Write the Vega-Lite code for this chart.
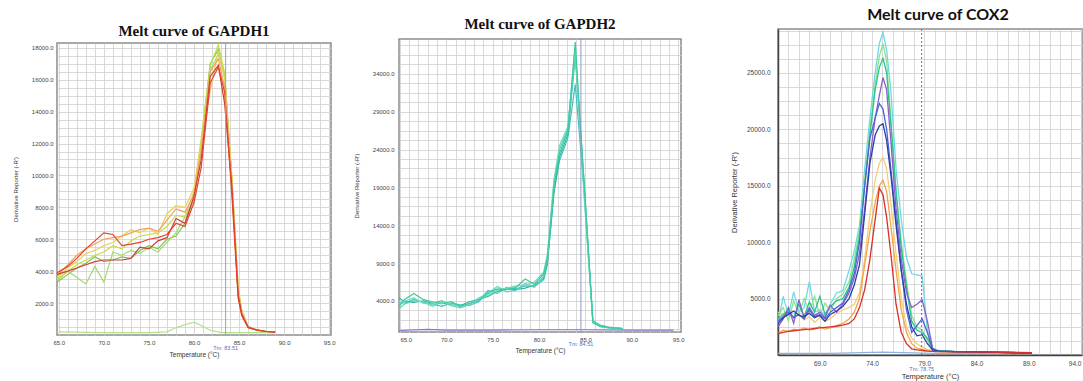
{
"$schema": "https://vega.github.io/schema/vega-lite/v6.json",
"padding": {"left": 11, "top": 0, "right": 0, "bottom": 0},
"background": "white",
"spacing": 16,
"resolve": {"scale": {"color": "independent"}},
"config": {
  "view": {"stroke": "#8c8c8c", "strokeWidth": 1.5},
  "axis": {"labelFont": "Liberation Sans", "titleFont": "Liberation Sans", "labelColor": "#444", "titleColor": "#333", "gridColor": "#cfcfcf", "gridWidth": 0.8, "ticks": false, "domain": false, "labelOverlap": false, "labelBound": false, "titleFontWeight": "normal"},
  "title": {"anchor": "middle", "color": "#111"}
},
"datasets": {
  "m1": [{"t": 83.51, "label": "Tm: 83.51"}],
  "m2": [{"t": 84.51, "label": "Tm: 84.51"}],
  "m3": [{"t": 78.75, "label": "Tm: 78.75"}],
  "d1": [
{"s":"N","t":64.8,"v":200},{"s":"N","t":70,"v":150},{"s":"N","t":75,"v":150},{"s":"N","t":77,"v":200},{"s":"N","t":78,"v":450},{"s":"N","t":79,"v":650},{"s":"N","t":80,"v":800},{"s":"N","t":80.8,"v":600},{"s":"N","t":81.8,"v":300},{"s":"N","t":83,"v":150},{"s":"N","t":85,"v":150},{"s":"N","t":87,"v":150},{"s":"N","t":89,"v":150},
{"s":"G","t":64.8,"v":3300},{"s":"G","t":66,"v":3800},{"s":"G","t":67,"v":4200},{"s":"G","t":68,"v":4500},{"s":"G","t":69,"v":4900},{"s":"G","t":70,"v":4600},{"s":"G","t":71,"v":4700},{"s":"G","t":72,"v":4900},{"s":"G","t":73,"v":4800},{"s":"G","t":74,"v":5300},{"s":"G","t":75,"v":5600},{"s":"G","t":76,"v":5400},{"s":"G","t":77,"v":6000},{"s":"G","t":78,"v":6200},{"s":"G","t":79,"v":7000},{"s":"G","t":80,"v":8600},{"s":"G","t":80.8,"v":12000},{"s":"G","t":81.8,"v":17000},{"s":"G","t":82.7,"v":17900},{"s":"G","t":83.4,"v":16300},{"s":"G","t":84.2,"v":9700},{"s":"G","t":84.9,"v":2800},{"s":"G","t":85.3,"v":1500},{"s":"G","t":86,"v":500},{"s":"G","t":87,"v":320},{"s":"G","t":88,"v":220},{"s":"G","t":89,"v":180},
{"s":"F","t":64.8,"v":3400},{"s":"F","t":66,"v":4000},{"s":"F","t":67,"v":3600},{"s":"F","t":68,"v":3200},{"s":"F","t":69,"v":4300},{"s":"F","t":70,"v":3300},{"s":"F","t":71,"v":5200},{"s":"F","t":72,"v":5000},{"s":"F","t":73,"v":5300},{"s":"F","t":74,"v":5100},{"s":"F","t":75,"v":5500},{"s":"F","t":76,"v":5200},{"s":"F","t":77,"v":5800},{"s":"F","t":78,"v":6400},{"s":"F","t":79,"v":7400},{"s":"F","t":80,"v":8500},{"s":"F","t":80.8,"v":11800},{"s":"F","t":81.8,"v":16600},{"s":"F","t":82.7,"v":17600},{"s":"F","t":83.4,"v":16200},{"s":"F","t":84.2,"v":9600},{"s":"F","t":84.9,"v":2600},{"s":"F","t":85.3,"v":1400},{"s":"F","t":86,"v":500},{"s":"F","t":87,"v":310},{"s":"F","t":88,"v":220},{"s":"F","t":89,"v":180},
{"s":"E","t":64.8,"v":3500},{"s":"E","t":66,"v":4000},{"s":"E","t":67,"v":4400},{"s":"E","t":68,"v":4700},{"s":"E","t":69,"v":5000},{"s":"E","t":70,"v":5200},{"s":"E","t":71,"v":5600},{"s":"E","t":72,"v":5400},{"s":"E","t":73,"v":5900},{"s":"E","t":74,"v":6200},{"s":"E","t":75,"v":6300},{"s":"E","t":76,"v":6400},{"s":"E","t":77,"v":6800},{"s":"E","t":78,"v":7500},{"s":"E","t":79,"v":7400},{"s":"E","t":80,"v":9000},{"s":"E","t":80.8,"v":12300},{"s":"E","t":81.8,"v":16900},{"s":"E","t":82.7,"v":18200},{"s":"E","t":83.4,"v":16400},{"s":"E","t":84.2,"v":10000},{"s":"E","t":84.9,"v":3000},{"s":"E","t":85.3,"v":1500},{"s":"E","t":86,"v":550},{"s":"E","t":87,"v":330},{"s":"E","t":88,"v":230},{"s":"E","t":89,"v":190},
{"s":"D","t":64.8,"v":3600},{"s":"D","t":66,"v":4200},{"s":"D","t":67,"v":4600},{"s":"D","t":68,"v":5100},{"s":"D","t":69,"v":5300},{"s":"D","t":70,"v":5600},{"s":"D","t":71,"v":5800},{"s":"D","t":72,"v":6200},{"s":"D","t":73,"v":6600},{"s":"D","t":74,"v":6400},{"s":"D","t":75,"v":6700},{"s":"D","t":76,"v":6300},{"s":"D","t":77,"v":7600},{"s":"D","t":78,"v":8100},{"s":"D","t":79,"v":8000},{"s":"D","t":80,"v":9200},{"s":"D","t":80.8,"v":12000},{"s":"D","t":81.8,"v":15300},{"s":"D","t":82.7,"v":17800},{"s":"D","t":83.4,"v":16000},{"s":"D","t":84.2,"v":9800},{"s":"D","t":84.9,"v":2900},{"s":"D","t":85.3,"v":1500},{"s":"D","t":86,"v":500},{"s":"D","t":87,"v":320},{"s":"D","t":88,"v":230},{"s":"D","t":89,"v":180},
{"s":"C","t":64.8,"v":3700},{"s":"C","t":66,"v":4400},{"s":"C","t":67,"v":5000},{"s":"C","t":68,"v":5400},{"s":"C","t":69,"v":5700},{"s":"C","t":70,"v":6000},{"s":"C","t":71,"v":6100},{"s":"C","t":72,"v":6200},{"s":"C","t":73,"v":6400},{"s":"C","t":74,"v":6600},{"s":"C","t":75,"v":6700},{"s":"C","t":76,"v":6500},{"s":"C","t":77,"v":7200},{"s":"C","t":78,"v":7900},{"s":"C","t":79,"v":7700},{"s":"C","t":80,"v":8800},{"s":"C","t":80.8,"v":11500},{"s":"C","t":81.8,"v":16500},{"s":"C","t":82.7,"v":17300},{"s":"C","t":83.4,"v":15500},{"s":"C","t":84.2,"v":9500},{"s":"C","t":84.9,"v":2700},{"s":"C","t":85.3,"v":1400},{"s":"C","t":86,"v":500},{"s":"C","t":87,"v":300},{"s":"C","t":88,"v":220},{"s":"C","t":89,"v":180},
{"s":"B","t":64.8,"v":3800},{"s":"B","t":66,"v":4000},{"s":"B","t":67,"v":4200},{"s":"B","t":68,"v":4400},{"s":"B","t":69,"v":4600},{"s":"B","t":70,"v":4700},{"s":"B","t":71,"v":4700},{"s":"B","t":72,"v":4700},{"s":"B","t":73,"v":4800},{"s":"B","t":74,"v":5500},{"s":"B","t":75,"v":5400},{"s":"B","t":76,"v":5900},{"s":"B","t":77,"v":6100},{"s":"B","t":78,"v":7300},{"s":"B","t":79,"v":7000},{"s":"B","t":80,"v":8700},{"s":"B","t":80.8,"v":11000},{"s":"B","t":81.8,"v":16200},{"s":"B","t":82.7,"v":16900},{"s":"B","t":83.4,"v":14500},{"s":"B","t":84.2,"v":9300},{"s":"B","t":84.9,"v":2500},{"s":"B","t":85.3,"v":1300},{"s":"B","t":86,"v":500},{"s":"B","t":87,"v":300},{"s":"B","t":88,"v":220},{"s":"B","t":89,"v":180},
{"s":"A","t":64.8,"v":3900},{"s":"A","t":66,"v":4300},{"s":"A","t":67,"v":4800},{"s":"A","t":68,"v":5400},{"s":"A","t":69,"v":5900},{"s":"A","t":70,"v":6400},{"s":"A","t":71,"v":6300},{"s":"A","t":72,"v":5600},{"s":"A","t":73,"v":5700},{"s":"A","t":74,"v":5800},{"s":"A","t":75,"v":6000},{"s":"A","t":76,"v":6100},{"s":"A","t":77,"v":6300},{"s":"A","t":78,"v":7000},{"s":"A","t":79,"v":6800},{"s":"A","t":80,"v":8300},{"s":"A","t":80.8,"v":10500},{"s":"A","t":81.8,"v":15800},{"s":"A","t":82.7,"v":16800},{"s":"A","t":83.4,"v":15200},{"s":"A","t":84.2,"v":8800},{"s":"A","t":84.9,"v":2300},{"s":"A","t":85.3,"v":1200},{"s":"A","t":86,"v":450},{"s":"A","t":87,"v":300},{"s":"A","t":88,"v":220},{"s":"A","t":89,"v":180}
  ],
  "d2": [
{"s":"N","t":64.9,"v":100},{"s":"N","t":68,"v":250},{"s":"N","t":70,"v":150},{"s":"N","t":75,"v":150},{"s":"N","t":80,"v":200},{"s":"N","t":85,"v":200},{"s":"N","t":90,"v":150},{"s":"N","t":94.5,"v":150},
{"s":"P4","t":64.9,"v":3800},{"s":"P4","t":65.5,"v":3700},{"s":"P4","t":66.5,"v":4200},{"s":"P4","t":67.5,"v":3800},{"s":"P4","t":68.5,"v":3600},{"s":"P4","t":69.5,"v":3300},{"s":"P4","t":70.5,"v":3700},{"s":"P4","t":71.5,"v":3500},{"s":"P4","t":72.5,"v":3400},{"s":"P4","t":73.5,"v":3900},{"s":"P4","t":74.5,"v":5400},{"s":"P4","t":75.5,"v":5000},{"s":"P4","t":76.5,"v":5800},{"s":"P4","t":77.5,"v":5600},{"s":"P4","t":78.5,"v":6000},{"s":"P4","t":79.5,"v":5900},{"s":"P4","t":80.5,"v":6800},{"s":"P4","t":80.9,"v":8800},{"s":"P4","t":81.6,"v":18500},{"s":"P4","t":82.2,"v":22500},{"s":"P4","t":83.1,"v":25500},{"s":"P4","t":83.9,"v":32600},{"s":"P4","t":84.9,"v":18000},{"s":"P4","t":85.8,"v":1400},{"s":"P4","t":86.6,"v":800},{"s":"P4","t":87.5,"v":550},{"s":"P4","t":89,"v":380},
{"s":"P2","t":64.9,"v":4400},{"s":"P2","t":65.5,"v":3900},{"s":"P2","t":66.5,"v":3800},{"s":"P2","t":67.5,"v":4000},{"s":"P2","t":68.5,"v":3700},{"s":"P2","t":69.5,"v":4000},{"s":"P2","t":70.5,"v":3500},{"s":"P2","t":71.5,"v":3400},{"s":"P2","t":72.5,"v":3900},{"s":"P2","t":73.5,"v":4200},{"s":"P2","t":74.5,"v":4600},{"s":"P2","t":75.5,"v":5300},{"s":"P2","t":76.5,"v":5600},{"s":"P2","t":77.5,"v":5500},{"s":"P2","t":78.5,"v":5700},{"s":"P2","t":79.5,"v":6100},{"s":"P2","t":80.5,"v":7000},{"s":"P2","t":80.9,"v":9200},{"s":"P2","t":81.6,"v":18200},{"s":"P2","t":82.2,"v":23000},{"s":"P2","t":83.1,"v":26000},{"s":"P2","t":83.9,"v":36300},{"s":"P2","t":84.9,"v":19000},{"s":"P2","t":85.8,"v":1100},{"s":"P2","t":86.6,"v":600},{"s":"P2","t":87.5,"v":450},{"s":"P2","t":89,"v":330},
{"s":"P3","t":64.9,"v":3000},{"s":"P3","t":65.5,"v":3600},{"s":"P3","t":66.5,"v":4000},{"s":"P3","t":67.5,"v":3900},{"s":"P3","t":68.5,"v":3300},{"s":"P3","t":69.5,"v":3800},{"s":"P3","t":70.5,"v":3400},{"s":"P3","t":71.5,"v":3100},{"s":"P3","t":72.5,"v":3500},{"s":"P3","t":73.5,"v":4400},{"s":"P3","t":74.5,"v":5000},{"s":"P3","t":75.5,"v":5900},{"s":"P3","t":76.5,"v":5200},{"s":"P3","t":77.5,"v":5400},{"s":"P3","t":78.5,"v":6300},{"s":"P3","t":79.5,"v":5800},{"s":"P3","t":80.5,"v":7300},{"s":"P3","t":80.9,"v":9600},{"s":"P3","t":81.6,"v":19500},{"s":"P3","t":82.2,"v":24000},{"s":"P3","t":83.1,"v":26800},{"s":"P3","t":83.9,"v":37500},{"s":"P3","t":84.9,"v":17000},{"s":"P3","t":85.8,"v":1200},{"s":"P3","t":86.6,"v":650},{"s":"P3","t":87.5,"v":480},{"s":"P3","t":89,"v":340},
{"s":"P5","t":64.9,"v":3600},{"s":"P5","t":65.5,"v":4000},{"s":"P5","t":66.5,"v":4400},{"s":"P5","t":67.5,"v":3700},{"s":"P5","t":68.5,"v":3500},{"s":"P5","t":69.5,"v":3900},{"s":"P5","t":70.5,"v":3600},{"s":"P5","t":71.5,"v":3300},{"s":"P5","t":72.5,"v":3600},{"s":"P5","t":73.5,"v":4100},{"s":"P5","t":74.5,"v":4800},{"s":"P5","t":75.5,"v":5400},{"s":"P5","t":76.5,"v":5700},{"s":"P5","t":77.5,"v":6000},{"s":"P5","t":78.5,"v":6100},{"s":"P5","t":79.5,"v":6500},{"s":"P5","t":80.5,"v":7800},{"s":"P5","t":80.9,"v":10200},{"s":"P5","t":81.6,"v":20000},{"s":"P5","t":82.2,"v":24500},{"s":"P5","t":83.1,"v":27000},{"s":"P5","t":83.9,"v":37000},{"s":"P5","t":84.9,"v":17500},{"s":"P5","t":85.8,"v":1250},{"s":"P5","t":86.6,"v":700},{"s":"P5","t":87.5,"v":500},{"s":"P5","t":89,"v":360},
{"s":"P1","t":64.9,"v":3300},{"s":"P1","t":65.5,"v":4200},{"s":"P1","t":66.5,"v":5000},{"s":"P1","t":67.5,"v":4200},{"s":"P1","t":68.5,"v":3900},{"s":"P1","t":69.5,"v":3600},{"s":"P1","t":70.5,"v":3900},{"s":"P1","t":71.5,"v":3300},{"s":"P1","t":72.5,"v":3700},{"s":"P1","t":73.5,"v":4000},{"s":"P1","t":74.5,"v":5100},{"s":"P1","t":75.5,"v":5600},{"s":"P1","t":76.5,"v":5500},{"s":"P1","t":77.5,"v":5800},{"s":"P1","t":78.5,"v":6900},{"s":"P1","t":79.5,"v":6200},{"s":"P1","t":80.5,"v":7600},{"s":"P1","t":80.9,"v":9800},{"s":"P1","t":81.6,"v":19000},{"s":"P1","t":82.2,"v":23500},{"s":"P1","t":83.1,"v":26500},{"s":"P1","t":83.9,"v":38200},{"s":"P1","t":84.9,"v":18500},{"s":"P1","t":85.8,"v":1300},{"s":"P1","t":86.6,"v":700},{"s":"P1","t":87.5,"v":500},{"s":"P1","t":89,"v":350}
  ],
  "d3": [
{"s":"N","t":65.0,"v":150},{"s":"N","t":70,"v":150},{"s":"N","t":75,"v":250},{"s":"N","t":80,"v":150},{"s":"N","t":85,"v":150},{"s":"N","t":89.3,"v":150},
{"s":"C7","t":65.0,"v":3800},{"s":"C7","t":65.5,"v":3500},{"s":"C7","t":66.0,"v":3900},{"s":"C7","t":66.5,"v":3300},{"s":"C7","t":67.0,"v":3600},{"s":"C7","t":67.5,"v":3100},{"s":"C7","t":68.0,"v":3400},{"s":"C7","t":68.5,"v":2900},{"s":"C7","t":69.0,"v":3300},{"s":"C7","t":69.5,"v":3000},{"s":"C7","t":70.0,"v":3200},{"s":"C7","t":70.6,"v":3700},{"s":"C7","t":71.2,"v":4000},{"s":"C7","t":71.8,"v":4200},{"s":"C7","t":72.3,"v":4500},{"s":"C7","t":72.8,"v":5500},{"s":"C7","t":73.3,"v":8500},{"s":"C7","t":73.8,"v":12500},{"s":"C7","t":74.3,"v":15500},{"s":"C7","t":74.7,"v":17000},{"s":"C7","t":75.05,"v":17500},{"s":"C7","t":75.4,"v":16500},{"s":"C7","t":75.8,"v":13500},{"s":"C7","t":76.3,"v":9000},{"s":"C7","t":76.8,"v":5000},{"s":"C7","t":77.3,"v":2500},{"s":"C7","t":77.8,"v":1500},{"s":"C7","t":78.3,"v":1000},{"s":"C7","t":78.8,"v":700},{"s":"C7","t":79.3,"v":500},{"s":"C7","t":79.8,"v":400},{"s":"C7","t":80.3,"v":350},{"s":"C7","t":82,"v":300},{"s":"C7","t":85,"v":250},{"s":"C7","t":88,"v":200},{"s":"C7","t":89.3,"v":200},
{"s":"C8","t":65.0,"v":1900},{"s":"C8","t":65.5,"v":2200},{"s":"C8","t":66.0,"v":2100},{"s":"C8","t":66.5,"v":2300},{"s":"C8","t":67.0,"v":2200},{"s":"C8","t":67.5,"v":2400},{"s":"C8","t":68.0,"v":2200},{"s":"C8","t":68.5,"v":2300},{"s":"C8","t":69.0,"v":2500},{"s":"C8","t":69.5,"v":2300},{"s":"C8","t":70.0,"v":2400},{"s":"C8","t":70.6,"v":2600},{"s":"C8","t":71.2,"v":2800},{"s":"C8","t":71.8,"v":3200},{"s":"C8","t":72.3,"v":3800},{"s":"C8","t":72.8,"v":5000},{"s":"C8","t":73.3,"v":8000},{"s":"C8","t":73.8,"v":11000},{"s":"C8","t":74.3,"v":13500},{"s":"C8","t":74.7,"v":15000},{"s":"C8","t":75.05,"v":15500},{"s":"C8","t":75.4,"v":14500},{"s":"C8","t":75.8,"v":11500},{"s":"C8","t":76.3,"v":7500},{"s":"C8","t":76.8,"v":4000},{"s":"C8","t":77.3,"v":2000},{"s":"C8","t":77.8,"v":1000},{"s":"C8","t":78.3,"v":600},{"s":"C8","t":78.8,"v":500},{"s":"C8","t":79.3,"v":400},{"s":"C8","t":79.8,"v":350},{"s":"C8","t":80.3,"v":300},{"s":"C8","t":82,"v":250},{"s":"C8","t":85,"v":250},{"s":"C8","t":88,"v":200},{"s":"C8","t":89.3,"v":200},
{"s":"C1","t":65.0,"v":2800},{"s":"C1","t":65.5,"v":5200},{"s":"C1","t":66.0,"v":3500},{"s":"C1","t":66.5,"v":5600},{"s":"C1","t":67.0,"v":3800},{"s":"C1","t":67.5,"v":4200},{"s":"C1","t":68.0,"v":6500},{"s":"C1","t":68.5,"v":3800},{"s":"C1","t":69.0,"v":4000},{"s":"C1","t":69.5,"v":3500},{"s":"C1","t":70.0,"v":4500},{"s":"C1","t":70.6,"v":5500},{"s":"C1","t":71.2,"v":5700},{"s":"C1","t":71.8,"v":7500},{"s":"C1","t":72.3,"v":9200},{"s":"C1","t":72.8,"v":11500},{"s":"C1","t":73.3,"v":16500},{"s":"C1","t":73.8,"v":21000},{"s":"C1","t":74.3,"v":25000},{"s":"C1","t":74.7,"v":27600},{"s":"C1","t":75.05,"v":28600},{"s":"C1","t":75.4,"v":27000},{"s":"C1","t":75.8,"v":23500},{"s":"C1","t":76.3,"v":16500},{"s":"C1","t":76.8,"v":12000},{"s":"C1","t":77.3,"v":8600},{"s":"C1","t":77.8,"v":7200},{"s":"C1","t":78.3,"v":7100},{"s":"C1","t":78.8,"v":7000},{"s":"C1","t":79.3,"v":2200},{"s":"C1","t":79.8,"v":400},{"s":"C1","t":80.3,"v":350},{"s":"C1","t":82,"v":300},{"s":"C1","t":85,"v":250},{"s":"C1","t":88,"v":200},{"s":"C1","t":89.3,"v":200},
{"s":"C2","t":65.0,"v":3500},{"s":"C2","t":65.5,"v":4200},{"s":"C2","t":66.0,"v":3000},{"s":"C2","t":66.5,"v":4800},{"s":"C2","t":67.0,"v":3600},{"s":"C2","t":67.5,"v":5000},{"s":"C2","t":68.0,"v":3800},{"s":"C2","t":68.5,"v":5200},{"s":"C2","t":69.0,"v":3500},{"s":"C2","t":69.5,"v":4600},{"s":"C2","t":70.0,"v":3900},{"s":"C2","t":70.6,"v":5000},{"s":"C2","t":71.2,"v":5400},{"s":"C2","t":71.8,"v":6500},{"s":"C2","t":72.3,"v":8500},{"s":"C2","t":72.8,"v":11000},{"s":"C2","t":73.3,"v":15500},{"s":"C2","t":73.8,"v":20000},{"s":"C2","t":74.3,"v":24000},{"s":"C2","t":74.7,"v":26500},{"s":"C2","t":75.05,"v":27600},{"s":"C2","t":75.4,"v":26000},{"s":"C2","t":75.8,"v":21000},{"s":"C2","t":76.3,"v":14500},{"s":"C2","t":76.8,"v":10000},{"s":"C2","t":77.3,"v":6500},{"s":"C2","t":77.8,"v":3500},{"s":"C2","t":78.3,"v":2500},{"s":"C2","t":78.8,"v":2200},{"s":"C2","t":79.3,"v":1300},{"s":"C2","t":79.8,"v":500},{"s":"C2","t":80.3,"v":350},{"s":"C2","t":82,"v":300},{"s":"C2","t":85,"v":250},{"s":"C2","t":88,"v":200},{"s":"C2","t":89.3,"v":200},
{"s":"C3","t":65.0,"v":3200},{"s":"C3","t":65.5,"v":3600},{"s":"C3","t":66.0,"v":4000},{"s":"C3","t":66.5,"v":3300},{"s":"C3","t":67.0,"v":4500},{"s":"C3","t":67.5,"v":3400},{"s":"C3","t":68.0,"v":4700},{"s":"C3","t":68.5,"v":3800},{"s":"C3","t":69.0,"v":5200},{"s":"C3","t":69.5,"v":3600},{"s":"C3","t":70.0,"v":4300},{"s":"C3","t":70.6,"v":4800},{"s":"C3","t":71.2,"v":5000},{"s":"C3","t":71.8,"v":6000},{"s":"C3","t":72.3,"v":7800},{"s":"C3","t":72.8,"v":10500},{"s":"C3","t":73.3,"v":15000},{"s":"C3","t":73.8,"v":19500},{"s":"C3","t":74.3,"v":23500},{"s":"C3","t":74.7,"v":25500},{"s":"C3","t":75.05,"v":26300},{"s":"C3","t":75.4,"v":25000},{"s":"C3","t":75.8,"v":20500},{"s":"C3","t":76.3,"v":14500},{"s":"C3","t":76.8,"v":9500},{"s":"C3","t":77.3,"v":6000},{"s":"C3","t":77.8,"v":3000},{"s":"C3","t":78.3,"v":2200},{"s":"C3","t":78.8,"v":2000},{"s":"C3","t":79.3,"v":1500},{"s":"C3","t":79.8,"v":600},{"s":"C3","t":80.3,"v":400},{"s":"C3","t":82,"v":300},{"s":"C3","t":85,"v":250},{"s":"C3","t":88,"v":200},{"s":"C3","t":89.3,"v":200},
{"s":"C4","t":65.0,"v":2500},{"s":"C4","t":65.5,"v":3200},{"s":"C4","t":66.0,"v":4200},{"s":"C4","t":66.5,"v":2800},{"s":"C4","t":67.0,"v":4900},{"s":"C4","t":67.5,"v":3300},{"s":"C4","t":68.0,"v":4200},{"s":"C4","t":68.5,"v":3500},{"s":"C4","t":69.0,"v":3800},{"s":"C4","t":69.5,"v":3300},{"s":"C4","t":70.0,"v":4400},{"s":"C4","t":70.6,"v":3800},{"s":"C4","t":71.2,"v":4500},{"s":"C4","t":71.8,"v":5500},{"s":"C4","t":72.3,"v":6800},{"s":"C4","t":72.8,"v":9000},{"s":"C4","t":73.3,"v":13000},{"s":"C4","t":73.8,"v":17500},{"s":"C4","t":74.3,"v":21000},{"s":"C4","t":74.7,"v":23000},{"s":"C4","t":75.05,"v":24600},{"s":"C4","t":75.4,"v":23500},{"s":"C4","t":75.8,"v":19000},{"s":"C4","t":76.3,"v":13000},{"s":"C4","t":76.8,"v":8500},{"s":"C4","t":77.3,"v":5500},{"s":"C4","t":77.8,"v":4200},{"s":"C4","t":78.3,"v":4500},{"s":"C4","t":78.8,"v":4900},{"s":"C4","t":79.3,"v":3000},{"s":"C4","t":79.8,"v":600},{"s":"C4","t":80.3,"v":350},{"s":"C4","t":82,"v":300},{"s":"C4","t":85,"v":250},{"s":"C4","t":88,"v":200},{"s":"C4","t":89.3,"v":200},
{"s":"C5","t":65.0,"v":3000},{"s":"C5","t":65.5,"v":3400},{"s":"C5","t":66.0,"v":3800},{"s":"C5","t":66.5,"v":3300},{"s":"C5","t":67.0,"v":3600},{"s":"C5","t":67.5,"v":3200},{"s":"C5","t":68.0,"v":4000},{"s":"C5","t":68.5,"v":3400},{"s":"C5","t":69.0,"v":3600},{"s":"C5","t":69.5,"v":3200},{"s":"C5","t":70.0,"v":3800},{"s":"C5","t":70.6,"v":4200},{"s":"C5","t":71.2,"v":4600},{"s":"C5","t":71.8,"v":5800},{"s":"C5","t":72.3,"v":7200},{"s":"C5","t":72.8,"v":10000},{"s":"C5","t":73.3,"v":15000},{"s":"C5","t":73.8,"v":19200},{"s":"C5","t":74.3,"v":21000},{"s":"C5","t":74.7,"v":22300},{"s":"C5","t":75.05,"v":21800},{"s":"C5","t":75.4,"v":20000},{"s":"C5","t":75.8,"v":16500},{"s":"C5","t":76.3,"v":12000},{"s":"C5","t":76.8,"v":7500},{"s":"C5","t":77.3,"v":4000},{"s":"C5","t":77.8,"v":2000},{"s":"C5","t":78.3,"v":2600},{"s":"C5","t":78.8,"v":3200},{"s":"C5","t":79.3,"v":2000},{"s":"C5","t":79.8,"v":500},{"s":"C5","t":80.3,"v":350},{"s":"C5","t":82,"v":300},{"s":"C5","t":85,"v":250},{"s":"C5","t":88,"v":200},{"s":"C5","t":89.3,"v":200},
{"s":"C6","t":65.0,"v":2800},{"s":"C6","t":65.5,"v":3300},{"s":"C6","t":66.0,"v":3600},{"s":"C6","t":66.5,"v":3900},{"s":"C6","t":67.0,"v":3500},{"s":"C6","t":67.5,"v":3400},{"s":"C6","t":68.0,"v":3700},{"s":"C6","t":68.5,"v":3300},{"s":"C6","t":69.0,"v":3500},{"s":"C6","t":69.5,"v":3000},{"s":"C6","t":70.0,"v":3600},{"s":"C6","t":70.6,"v":3900},{"s":"C6","t":71.2,"v":4300},{"s":"C6","t":71.8,"v":5000},{"s":"C6","t":72.3,"v":6200},{"s":"C6","t":72.8,"v":8000},{"s":"C6","t":73.3,"v":12500},{"s":"C6","t":73.8,"v":17000},{"s":"C6","t":74.3,"v":19500},{"s":"C6","t":74.7,"v":20300},{"s":"C6","t":75.05,"v":20500},{"s":"C6","t":75.4,"v":19000},{"s":"C6","t":75.8,"v":16000},{"s":"C6","t":76.3,"v":11500},{"s":"C6","t":76.8,"v":7500},{"s":"C6","t":77.3,"v":4500},{"s":"C6","t":77.8,"v":2500},{"s":"C6","t":78.3,"v":1700},{"s":"C6","t":78.8,"v":1800},{"s":"C6","t":79.3,"v":1000},{"s":"C6","t":79.8,"v":450},{"s":"C6","t":80.3,"v":350},{"s":"C6","t":82,"v":300},{"s":"C6","t":85,"v":250},{"s":"C6","t":88,"v":200},{"s":"C6","t":89.3,"v":200},
{"s":"C9","t":65.0,"v":1900},{"s":"C9","t":65.5,"v":2000},{"s":"C9","t":66.0,"v":2100},{"s":"C9","t":66.5,"v":2150},{"s":"C9","t":67.0,"v":2200},{"s":"C9","t":67.5,"v":2250},{"s":"C9","t":68.0,"v":2300},{"s":"C9","t":68.5,"v":2350},{"s":"C9","t":69.0,"v":2400},{"s":"C9","t":69.5,"v":2450},{"s":"C9","t":70.0,"v":2500},{"s":"C9","t":70.6,"v":2550},{"s":"C9","t":71.2,"v":2650},{"s":"C9","t":71.8,"v":2800},{"s":"C9","t":72.3,"v":3200},{"s":"C9","t":72.8,"v":4200},{"s":"C9","t":73.3,"v":5800},{"s":"C9","t":73.8,"v":8500},{"s":"C9","t":74.3,"v":12000},{"s":"C9","t":74.7,"v":14800},{"s":"C9","t":75.05,"v":14200},{"s":"C9","t":75.4,"v":12200},{"s":"C9","t":75.8,"v":9000},{"s":"C9","t":76.3,"v":4500},{"s":"C9","t":76.8,"v":2000},{"s":"C9","t":77.3,"v":1000},{"s":"C9","t":77.8,"v":550},{"s":"C9","t":78.3,"v":450},{"s":"C9","t":78.8,"v":400},{"s":"C9","t":79.3,"v":350},{"s":"C9","t":79.8,"v":320},{"s":"C9","t":80.3,"v":300},{"s":"C9","t":82,"v":280},{"s":"C9","t":85,"v":250},{"s":"C9","t":88,"v":220},{"s":"C9","t":89.3,"v":200}
  ]
},
"hconcat": [
 {"spacing": 0, "vconcat": [
  {"width": 1, "height": 23, "data": {"values": []}, "mark": "point", "view": {"stroke": null}},
  {
  "width": 274, "height": 292,
  "title": {"text": "Melt curve of GAPDH1", "font": "Liberation Serif", "fontSize": 15, "fontWeight": "bold", "offset": 3},
  "layer": [
   {"data": {"name": "d1"}, "mark": {"type": "line", "strokeWidth": 1.2},
    "encoding": {
     "x": {"field": "t", "type": "quantitative", "scale": {"domain": [64.8, 95.2], "nice": false, "zero": false},
       "axis": {"values": [65,66,67,68,69,70,71,72,73,74,75,76,77,78,79,80,81,82,83,84,85,86,87,88,89,90,91,92,93,94,95], "tickCount": 100, "labelExpr": "datum.value % 5 == 0 ? format(datum.value, '.1f') : ''", "labelOverlap": false, "labelFontSize": 6, "labelPadding": 4, "title": "Temperature (°C)", "titleFontSize": 6.5, "titlePadding": 6}},
     "y": {"field": "v", "type": "quantitative", "scale": {"domain": [0, 18300], "nice": false},
       "axis": {"values": [500,1000,1500,2000,2500,3000,3500,4000,4500,5000,5500,6000,6500,7000,7500,8000,8500,9000,9500,10000,10500,11000,11500,12000,12500,13000,13500,14000,14500,15000,15500,16000,16500,17000,17500,18000], "tickCount": 100, "labelExpr": "datum.value % 2000 == 0 ? format(datum.value, '.1f') : ''", "labelOverlap": false, "labelFontSize": 6, "labelPadding": 4, "title": "Derivative Reporter (-R')", "titleFontSize": 6, "titlePadding": 13}},
     "color": {"field": "s", "type": "nominal", "legend": null, "scale": {"domain": ["N","G","F","E","D","C","B","A"], "range": ["#b4df8f","#7fc24d","#a4d873","#c5dc4c","#e9d25a","#f0a060","#c9403a","#e8412c"]}}
    }},
   {"data": {"name": "m1"}, "mark": {"type": "rule", "color": "#86a6cc", "strokeWidth": 1},
    "encoding": {"x": {"field": "t", "type": "quantitative"}}},
   {"data": {"name": "m1"}, "mark": {"type": "text", "color": "#4f74b8", "fontSize": 5.5, "dy": 13, "font": "Liberation Sans"},
    "encoding": {"x": {"field": "t", "type": "quantitative"}, "y": {"datum": 0, "type": "quantitative"}, "text": {"field": "label"}}}
  ]
 }]},
 {"spacing": 0, "vconcat": [
  {"width": 1, "height": 15, "data": {"values": []}, "mark": "point", "view": {"stroke": null}},
  {
  "width": 282, "height": 293,
  "title": {"text": "Melt curve of GAPDH2", "font": "Liberation Serif", "fontSize": 15, "fontWeight": "bold", "offset": 7},
  "layer": [
   {"data": {"name": "d2"}, "mark": {"type": "line", "strokeWidth": 1.2},
    "encoding": {
     "x": {"field": "t", "type": "quantitative", "scale": {"domain": [64.9, 95.3], "nice": false, "zero": false},
       "axis": {"values": [65,66,67,68,69,70,71,72,73,74,75,76,77,78,79,80,81,82,83,84,85,86,87,88,89,90,91,92,93,94,95], "tickCount": 100, "labelExpr": "datum.value % 5 == 0 ? format(datum.value, '.1f') : ''", "labelOverlap": false, "labelFontSize": 6, "labelPadding": 4, "title": "Temperature (°C)", "titleFontSize": 6.5, "titlePadding": 5}},
     "y": {"field": "v", "type": "quantitative", "scale": {"domain": [-100, 38600], "nice": false, "zero": false},
       "axis": {"values": [250,1500,2750,4000,5250,6500,7750,9000,10250,11500,12750,14000,15250,16500,17750,19000,20250,21500,22750,24000,25250,26500,27750,29000,30250,31500,32750,34000,35250,36500,37750], "tickCount": 100, "labelExpr": "(datum.value - 4000) % 5000 == 0 ? format(datum.value, '.1f') : ''", "labelOverlap": false, "labelFontSize": 6, "labelPadding": 5, "title": "Derivative Reporter (-R')", "titleFontSize": 6, "titlePadding": 13}},
     "color": {"field": "s", "type": "nominal", "legend": null, "scale": {"domain": ["N","P4","P2","P3","P5","P1"], "range": ["#7d7ccc","#47bdc4","#2fb89c","#5dd4bb","#72dcb0","#3cc9a4"]}}
    }},
   {"data": {"name": "m2"}, "mark": {"type": "rule", "color": "#8c98c4", "strokeWidth": 1},
    "encoding": {"x": {"field": "t", "type": "quantitative"}}},
   {"data": {"name": "m2"}, "mark": {"type": "text", "color": "#4f74b8", "fontSize": 5.5, "dy": 12, "font": "Liberation Sans"},
    "encoding": {"x": {"field": "t", "type": "quantitative"}, "y": {"datum": -100, "type": "quantitative"}, "text": {"field": "label"}}}
  ]
 }]},
 {"width": 12, "height": 10, "data": {"values": []}, "mark": "point", "view": {"stroke": null}},
 {"spacing": 0, "vconcat": [
  {"width": 1, "height": 5, "data": {"values": []}, "mark": "point", "view": {"stroke": null}},
  {
  "width": 304, "height": 326,
  "title": {"text": "Melt curve of COX2", "font": "Lato", "fontSize": 16, "fontWeight": "bold", "offset": 5, "dx": 8},
  "layer": [
   {"data": {"name": "d3"}, "mark": {"type": "line", "strokeWidth": 1.3},
    "encoding": {
     "x": {"field": "t", "type": "quantitative", "scale": {"domain": [65.0, 94.1], "nice": false, "zero": false},
       "axis": {"values": [66,67,68,69,70,71,72,73,74,75,76,77,78,79,80,81,82,83,84,85,86,87,88,89,90,91,92,93,94], "tickCount": 100, "labelExpr": "(datum.value - 69) % 5 == 0 ? format(datum.value, '.1f') : ''", "labelOverlap": false, "labelFontSize": 6.5, "labelPadding": 5, "labelFlush": 5, "title": "Temperature (°C)", "titleFontSize": 7.5, "titlePadding": 5.5, "domain": true, "domainColor": "#444", "domainWidth": 1.5}},
     "y": {"field": "v", "type": "quantitative", "scale": {"domain": [0, 28900], "nice": false},
       "axis": {"values": [1250,2500,3750,5000,6250,7500,8750,10000,11250,12500,13750,15000,16250,17500,18750,20000,21250,22500,23750,25000,26250,27500,28750], "tickCount": 100, "labelExpr": "datum.value % 5000 == 0 ? format(datum.value, '.1f') : ''", "labelOverlap": false, "labelFontSize": 6.5, "labelPadding": 8, "title": "Derivative Reporter (-R')", "titleFontSize": 7.5, "titlePadding": 8, "domain": true, "domainColor": "#444", "domainWidth": 1.5}},
     "color": {"field": "s", "type": "nominal", "legend": null, "scale": {"domain": ["N","C7","C8","C1","C2","C3","C4","C5","C6","C9"], "range": ["#8cb4e6","#f6cd7a","#f2a54a","#6fd8e6","#8be38a","#2dc28d","#8b5fc9","#4a66d6","#2b3ea6","#d6302a"]}}
    }},
   {"data": {"name": "m3"}, "mark": {"type": "rule", "color": "#5577aa", "strokeWidth": 1, "strokeDash": [2, 2]},
    "encoding": {"x": {"field": "t", "type": "quantitative"}}},
   {"data": {"name": "m3"}, "mark": {"type": "text", "color": "#4f74b8", "fontSize": 5.5, "dy": 14, "font": "Liberation Sans"},
    "encoding": {"x": {"field": "t", "type": "quantitative"}, "y": {"datum": 0, "type": "quantitative"}, "text": {"field": "label"}}}
  ]
 }]}
]
}
